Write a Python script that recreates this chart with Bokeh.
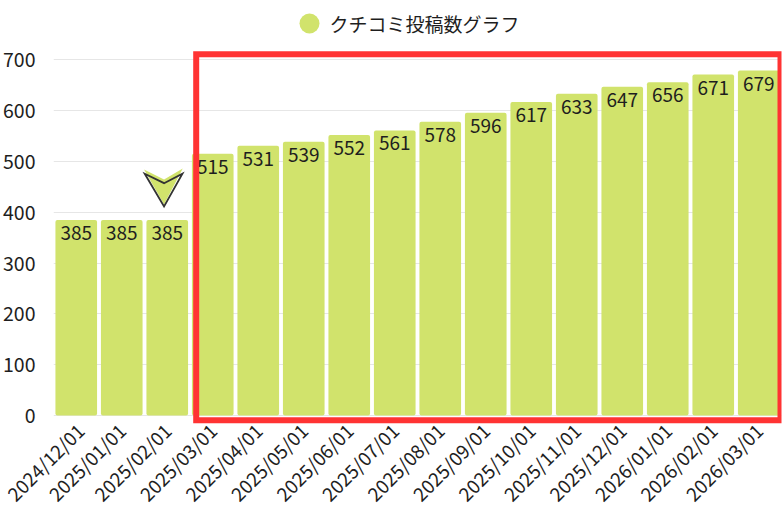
import math
from bokeh.plotting import figure
from bokeh.models import FixedTicker, Range1d, ColumnDataSource
from bokeh.core.properties import value
from bokeh.embed import file_html
from bokeh.resources import INLINE

dates = ["2024/12/01", "2025/01/01", "2025/02/01", "2025/03/01", "2025/04/01", "2025/05/01",
         "2025/06/01", "2025/07/01", "2025/08/01", "2025/09/01", "2025/10/01", "2025/11/01",
         "2025/12/01", "2026/01/01", "2026/02/01", "2026/03/01"]
counts = [385, 385, 385, 515, 531, 539, 552, 561, 578, 596, 617, 633, 647, 656, 671, 679]
y_ticks = [0, 100, 200, 300, 400, 500, 600, 700]
series_name = "クチコミ投稿数グラフ"
marked_index = 2  # 2025/02/01
highlight_first = 3  # 2025/03/01 ... end

GREEN = "#d1e36c"
RED = "#ff3333"
FONT = "Noto Sans CJK JP"
TXT = "#1e1e1e"

idx = list(range(len(dates)))
src = ColumnDataSource(dict(x=idx, y=counts, lab=[str(c) for c in counts]))

W, H = 784, 518
LEFT = 53
RIGHT = 3
ZERO_Y = 415
FRAME_BOTTOM = 424
PX_X = (W - LEFT - RIGHT) / len(dates)   # pixels per category
PX_Y = 0.5081                             # pixels per unit

def sx(px):  # page x -> data x
    return (px - LEFT) / PX_X - 0.5

def sy(py):  # page y -> data y
    return (ZERO_Y - py) / PX_Y

p = figure(width=W, height=H, output_backend="svg", toolbar_location=None,
           x_range=Range1d(-0.5, len(dates) - 0.5),
           y_range=Range1d(sy(FRAME_BOTTOM), sy(0)),
           min_border_left=LEFT, min_border_right=RIGHT, min_border_top=0, min_border_bottom=H - FRAME_BOTTOM)
p.outline_line_color = None
p.background_fill_color = "white"
p.border_fill_color = "white"
p.xgrid.grid_line_color = None
p.ygrid.grid_line_color = "#e6e6e6"
p.ygrid.ticker = FixedTicker(ticks=y_ticks)

p.vbar(x="x", top="y", bottom=0, width=0.915, source=src, fill_color=GREEN,
       line_color=None, border_radius=2)

p.text(x="x", y="y", text="lab", source=src, text_align="center", text_baseline="top",
       y_offset=6, text_font=value(FONT), text_font_size="19px", text_color=TXT)

# highlight box around the later months
p.quad(left=[sx(195.7)], right=[sx(780)], top=[sy(53.7)], bottom=[sy(419.7)],
       fill_color=None, line_color=RED, line_width=6, line_join="miter")

# arrow marker above the marked month
mx, my = marked_index, counts[marked_index]
green_px = [(-23.2, 50.4), (-3.2, 40.4), (15.5, 51.4), (-3.2, 15.4)]
line_px = [(-22.5, 46.1), (-3.2, 36.7), (15.2, 46.1), (-3.2, 13.4)]
p.patch([mx + dx / PX_X for dx, dy in green_px], [my + dy / PX_Y for dx, dy in green_px],
        fill_color=GREEN, line_color=None)
p.patch([mx + dx / PX_X for dx, dy in line_px], [my + dy / PX_Y for dx, dy in line_px],
        fill_color=None, line_color="#333333", line_width=1.8, line_join="miter")

# legend (circle + label)
p.scatter(x=[sx(309)], y=[sy(23)], marker="circle", size=20, fill_color=GREEN, line_color=None)
p.text(x=[sx(329)], y=[sy(23)], text=[series_name], text_align="left", text_baseline="middle",
       text_font=value(FONT), text_font_size="19px", text_color=TXT)

# axes
p.yaxis.ticker = FixedTicker(ticks=y_ticks)
p.yaxis.axis_line_color = None
p.yaxis.major_tick_line_color = None
p.yaxis.minor_tick_line_color = None
p.yaxis.major_label_standoff = 12
p.yaxis.major_label_text_font = FONT
p.yaxis.major_label_text_font_size = "19.5px"
p.yaxis.major_label_text_color = TXT

p.xaxis.ticker = FixedTicker(ticks=idx)
p.xaxis.major_label_overrides = {i: d for i, d in enumerate(dates)}
p.xaxis.major_label_orientation = math.pi / 4
p.xaxis.axis_line_color = None
p.xaxis.major_tick_line_color = None
p.xaxis.minor_tick_line_color = None
p.xaxis.major_label_standoff = -4
p.xaxis.major_label_text_font = FONT
p.xaxis.major_label_text_font_size = "19px"
p.xaxis.major_label_text_color = TXT

open("out.html", "w").write(file_html(p, INLINE))
